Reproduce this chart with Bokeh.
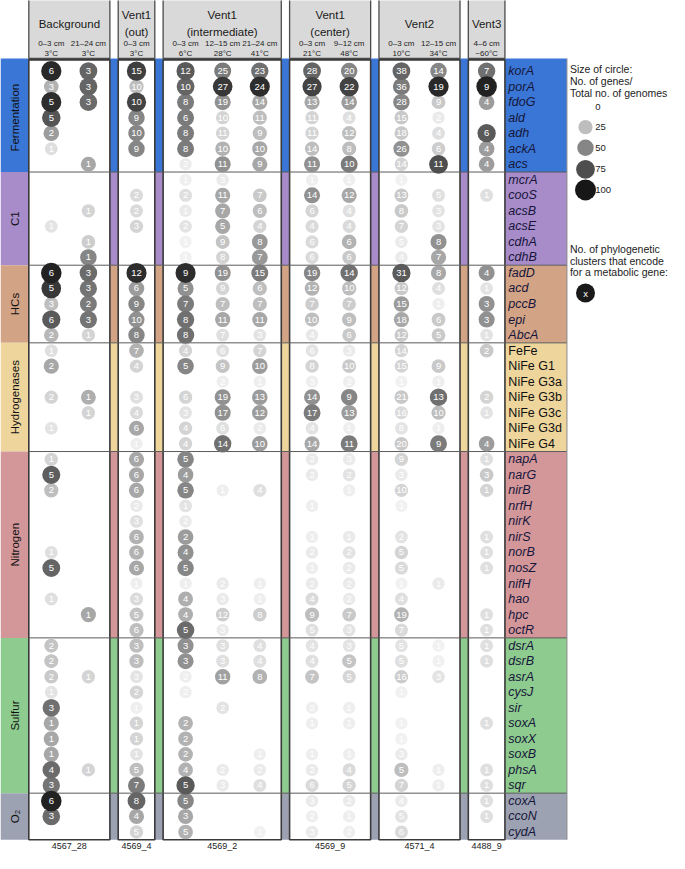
import math
from bokeh.plotting import figure
from bokeh.models import ColumnDataSource, Range1d
from bokeh.core.properties import value
from bokeh.embed import file_html
from bokeh.resources import INLINE

FONT = "Liberation Sans"

# ---------------- data ----------------
panel_titles = [["Background"], ["Vent1", "(out)"], ["Vent1", "(intermediate)"],
                ["Vent1", "(center)"], ["Vent2"], ["Vent3"]]
panel_samples = ["4567_28", "4569_4", "4569_2", "4569_9", "4571_4", "4488_9"]
panel_depths = [["0–3 cm", "21–24 cm"], ["0–3 cm"], ["0–3 cm", "12–15 cm", "21–24 cm"],
                ["0–3 cm", "9–12 cm"], ["0–3 cm", "12–15 cm"], ["4–6 cm"]]
panel_temps = [["3°C", "3°C"], ["3°C"], ["6°C", "28°C", "41°C"],
               ["21°C", "48°C"], ["10°C", "34°C"], ["~60°C"]]

categories = ["Fermentation", "C1", "HCs", "Hydrogenases", "Nitrogen", "Sulfur", "O₂"]
category_colors = ["#3a76d6", "#a88bc9", "#d3a386", "#edd59c", "#d3979a", "#8ecb8e", "#9da2b2"]
genes_fermentation = ["korA", "porA", "fdoG", "ald", "adh", "ackA", "acs"]
genes_c1 = ["mcrA", "cooS", "acsB", "acsE", "cdhA", "cdhB"]
genes_hcs = ["fadD", "acd", "pccB", "epi", "AbcA"]
genes_hydrogenases = ["FeFe", "NiFe G1", "NiFe G3a", "NiFe G3b", "NiFe G3c", "NiFe G3d", "NiFe G4"]
genes_nitrogen = ["napA", "narG", "nirB", "nrfH", "nirK", "nirS", "norB", "nosZ", "nifH", "hao", "hpc", "octR"]
genes_sulfur = ["dsrA", "dsrB", "asrA", "cysJ", "sir", "soxA", "soxX", "soxB", "phsA", "sqr"]
genes_o2 = ["coxA", "ccoN", "cydA"]
category_genes = [genes_fermentation, genes_c1, genes_hcs, genes_hydrogenases,
                  genes_nitrogen, genes_sulfur, genes_o2]
italic_categories = [True, True, True, False, True, True, True]

N = None
# counts (number of phylogenetic clusters) and percent (genes / genomes), 50 rows each
bg_0_3_n = [6, 3, 5, 5, 2, 1, N,  N, N, N, 1, N, N,  6, 5, 3, 6, 2,  1, 2, N, 2, N, 1, N,
            1, 5, 2, N, N, N, 1, 5, N, 1, N, N,  2, 2, 2, 1, 3, 1, 1, 1, 4, 3,  6, 3, N]
bg_0_3_p = [92, 30, 90, 72, 40, 10, N,  N, N, N, 8, N, N,  95, 85, 25, 70, 28,  10, 35, N, 15, N, 8, N,
            15, 68, 25, N, N, N, 10, 65, N, 10, N, N,  22, 22, 20, 8, 60, 35, 35, 35, 62, 58,  95, 62, N]

bg_21_24_n = [3, 3, 3, N, N, N, 1,  N, N, 1, N, 1, 1,  3, 3, 2, 3, 1,  N, N, N, 1, 1, N, N,
              N, N, N, N, N, N, N, N, N, N, 1, N,  N, N, 1, N, N, N, N, N, 1, N,  N, N, N]
bg_21_24_p = [65, 65, 62, N, N, N, 35,  N, N, 15, N, 18, 50,  62, 58, 55, 58, 15,  N, N, N, 32, 15, N, N,
              N, N, N, N, N, N, N, N, N, N, 35, N,  N, N, 15, N, N, N, N, N, 15, N,  N, N, N]

v1out_n = [15, 10, 10, 9, 10, 9, N,  N, 2, 2, 3, N, N,  12, 6, 9, 10, 8,  7, 4, N, 3, 4, 6, 1,
           6, 6, 6, 2, 3, 6, 6, 6, 1, 3, 5, 6,  3, 3, 3, 2, 1, 1, 1, 1, 5, 7,  8, 4, 5]
v1out_p = [82, 25, 80, 50, 50, 50, N,  N, 12, 12, 15, N, N,  90, 40, 50, 45, 50,  30, 15, N, 10, 12, 35, 3,
           35, 35, 35, 5, 10, 30, 30, 35, 3, 12, 22, 25,  25, 25, 8, 15, 3, 15, 15, 8, 25, 55,  65, 35, 15]

v1i_0_3_n = [12, 10, 8, 6, 8, 8, 2,  1, 2, 1, 2, 1, 1,  9, 5, 7, 8, 8,  4, 5, N, 6, 3, 4, 4,
             5, 4, 5, 1, 2, 2, 4, 5, 1, 4, 4, 5,  3, 3, 2, 2, N, 2, 2, 2, 4, 5,  5, 3, 5]
v1i_0_3_p = [70, 65, 55, 55, 55, 55, 4,  3, 10, 5, 8, 2, 2,  90, 45, 55, 60, 60,  15, 50, N, 15, 8, 15, 15,
             50, 40, 50, 8, 5, 40, 45, 50, 3, 32, 32, 62,  45, 45, 3, 3, N, 30, 30, 30, 30, 70,  50, 35, 30]

v1i_12_15_n = [25, 27, 19, 10, 11, 10, 11,  3, 11, 7, 5, 9, 8,  19, 9, 7, 11, 7,  6, 9, 2, 19, 17, 6, 14,
               N, N, 1, N, N, N, N, N, 2, 3, 12, 3,  3, 3, 11, N, 2, N, N, N, 2, 3,  N, N, N]
v1i_12_15_p = [55, 85, 45, 15, 15, 30, 45,  5, 35, 35, 35, 22, 15,  45, 15, 25, 35, 10,  10, 22, 3, 45, 45, 10, 60,
               N, N, 3, N, N, N, N, N, 5, 5, 18, 5,  10, 10, 38, N, 8, N, N, N, 5, 5,  N, N, N]

v1i_21_24_n = [23, 24, 14, 11, 9, 10, 9,  N, 7, 6, 4, 8, 7,  15, 6, 7, 11, 3,  7, 10, 1, 13, 12, 2, 10,
               N, N, 4, N, N, N, N, N, 1, 1, 8, N,  4, 4, 8, N, N, N, N, 1, 2, 4,  N, N, 1]
v1i_21_24_p = [60, 90, 35, 25, 25, 35, 35,  N, 20, 25, 15, 42, 42,  55, 25, 25, 35, 8,  15, 40, 3, 40, 40, 5, 40,
               N, N, 10, N, N, N, N, N, 3, 3, 18, N,  10, 10, 30, N, N, N, N, 3, 5, 10,  N, N, 2]

v1c_0_3_n = [28, 27, 13, 11, 11, 14, 11,  1, 14, 6, 4, 6, 6,  19, 12, 7, 10, 4,  6, 8, 3, 14, 17, 4, 14,
             2, 2, N, 1, N, 1, 2, 1, 2, 4, 9, 5,  4, 4, 7, N, 2, 1, N, 1, 2, 6,  3, 2, 3]
v1c_0_3_p = [65, 80, 35, 15, 15, 25, 45,  3, 45, 15, 12, 12, 12,  50, 30, 18, 25, 6,  8, 15, 3, 45, 55, 8, 35,
             5, 5, N, 3, N, 3, 5, 3, 5, 12, 25, 10,  8, 10, 22, N, 3, 3, N, 3, 5, 12,  5, 3, 5]

v1c_9_12_n = [20, 22, 14, 4, 12, 8, 10,  1, 12, 4, 4, 6, 6,  14, 10, 7, 9, 6,  3, 10, 2, 9, 13, 1, 11,
              3, 2, 1, N, N, 1, 2, 2, 2, 2, 7, 3,  3, 5, 5, N, 1, 1, N, 1, 4, 5,  2, 1, 2]
v1c_9_12_p = [50, 80, 40, 10, 25, 25, 55,  3, 35, 10, 12, 30, 20,  60, 25, 18, 25, 20,  5, 20, 3, 50, 40, 3, 55,
              5, 8, 3, N, N, 5, 8, 5, 5, 5, 20, 8,  8, 22, 14, N, 3, 3, N, 3, 12, 15,  5, 3, 3]

v2_0_3_n = [38, 36, 28, 15, 18, 26, 14,  1, 13, 8, 7, 5, 4,  31, 12, 15, 18, 12,  14, 15, 1, 21, 16, 8, 20,
            9, 3, 10, 1, N, 2, 5, 5, 1, 4, 19, 7,  5, 5, 16, 1, N, 1, 1, 3, 5, 7,  4, 5, 6]
v2_0_3_p = [65, 55, 50, 20, 20, 45, 15,  2, 20, 20, 15, 5, 5,  70, 20, 40, 35, 20,  15, 15, 2, 20, 12, 8, 20,
            15, 5, 15, 2, N, 8, 15, 12, 2, 10, 30, 12,  8, 10, 18, 2, N, 2, 2, 5, 25, 15,  5, 8, 12]

v2_12_15_n = [14, 19, 9, 2, 4, 6, 11,  N, 5, 3, 3, 8, 7,  8, 4, 1, 6, 5,  N, 9, 1, 13, 10, 1, 9,
              N, N, N, N, N, N, N, N, 1, N, N, N,  1, 1, 3, N, N, N, N, N, 1, 1,  N, N, N]
v2_12_15_p = [50, 92, 20, 5, 10, 18, 75,  N, 10, 8, 8, 45, 35,  35, 10, 3, 20, 20,  N, 20, 3, 60, 25, 3, 55,
              N, N, N, N, N, N, N, N, 5, N, N, N,  2, 2, 8, N, N, N, N, N, 3, 3,  N, N, N]

v3_n = [7, 9, 4, N, 6, 4, 4,  N, 1, N, N, N, N,  4, 1, 3, 3, 1,  2, N, N, 2, 1, N, 4,
        1, 3, 1, N, N, 1, 1, 1, N, N, 1, 1,  1, 1, N, N, N, 1, N, N, 1, 1,  1, 1, N]
v3_p = [60, 95, 40, N, 70, 40, 40,  N, 10, N, N, N, N,  45, 8, 45, 45, 8,  20, N, N, 15, 8, N, 40,
        10, 20, 15, N, N, 10, 10, 10, N, N, 10, 10,  10, 10, N, N, N, 10, N, N, 10, 10,  10, 10, N]

columns_n = [bg_0_3_n, bg_21_24_n, v1out_n, v1i_0_3_n, v1i_12_15_n, v1i_21_24_n,
             v1c_0_3_n, v1c_9_12_n, v2_0_3_n, v2_12_15_n, v3_n]
columns_p = [bg_0_3_p, bg_21_24_p, v1out_p, v1i_0_3_p, v1i_12_15_p, v1i_21_24_p,
             v1c_0_3_p, v1c_9_12_p, v2_0_3_p, v2_12_15_p, v3_p]

legend_values = [0, 25, 50, 75, 100]
legend_title = ["Size of circle:", "No. of genes/", "Total no. of genomes"]
cluster_title = ["No. of phylogenetic", "clusters that encode", "for a metabolic gene:"]

# ---------------- layout ----------------
X_MAX, Y_MAX = 685, 869
PANEL_TOP = 60.5
HEADER_BOT = 59.0
BODY_TOP = 64.0
BODY_BOT = 855.0
CAT_R = 29.0
BAND_R = 580.0
LABEL_X = 520.0
GAP = 8.5
n_rows = sum(len(g) for g in category_genes)
ROW_H = (BODY_BOT - BODY_TOP) / n_rows


def row_y(i):
    return BODY_TOP + (i + 0.5) * ROW_H


def gray(pct):
    g = int(round(245 - 222 * pct / 100.0))
    return "#%02x%02x%02x" % (g, g, g)


def diam(pct):
    return 12.0 + 0.09 * pct


# panels
panel_ncols = [len(d) for d in panel_depths]
panel_left, panel_right, col_x = [], [], []
x = CAT_R
for n in panel_ncols:
    w = 37.5 if n == 1 else 45 + 38 * (n - 1)
    panel_left.append(x)
    panel_right.append(x + w)
    if n == 1:
        col_x.append([x + w / 2])
    else:
        col_x.append([x + 23 + 38 * j for j in range(n)])
    x += w + GAP
flat_col_x = [cx for cols in col_x for cx in cols]

p = figure(width=669, height=853, x_range=Range1d(0, X_MAX), y_range=Range1d(Y_MAX, 0),
           output_backend="svg", toolbar_location=None, min_border=0,
           x_axis_type=None, y_axis_type=None)
p.grid.visible = False
p.outline_line_color = None
p.background_fill_color = "white"
p.border_fill_color = "white"

# category bands
sec_top, sec_bot, sec_mid = [], [], []
r = 0
for k, g in enumerate(category_genes):
    t = BODY_TOP + r * ROW_H
    b = BODY_TOP + (r + len(g)) * ROW_H
    sec_top.append(HEADER_BOT if k == 0 else t)
    sec_bot.append(b)
    sec_mid.append((t + b) / 2)
    r += len(g)
p.quad(left=0, right=BAND_R, top=sec_top, bottom=sec_bot, fill_color=category_colors, line_color=None)

# panel boxes
p.quad(left=panel_left, right=panel_right, top=PANEL_TOP, bottom=BODY_BOT,
       fill_color="white", line_color="#3a3a3a", line_width=1.6)

# section separator lines
p.segment(x0=CAT_R, x1=BAND_R, y0=sec_bot[:-1], y1=sec_bot[:-1], line_color="#5a5a5a", line_width=1)
p.segment(x0=[BAND_R], x1=[BAND_R], y0=[HEADER_BOT], y1=[BODY_BOT], line_color="#8a8a8a", line_width=1)

# category labels
p.text(x=[CAT_R / 2] * len(categories), y=sec_mid, text=categories, angle=math.pi / 2,
       text_align="center", text_baseline="middle", text_font=value(FONT),
       text_font_size="11.5px", text_color="#111111")

# header boxes
p.quad(left=panel_left, right=panel_right, top=-3, bottom=HEADER_BOT,
       fill_color="#d9d9d9", line_color="#4a4a4a", line_width=1.3)
tx, ty, tt = [], [], []
for k, lines in enumerate(panel_titles):
    cx = (panel_left[k] + panel_right[k]) / 2
    ys = [24] if len(lines) == 1 else [15, 32]
    for ln, yy in zip(lines, ys):
        tx.append(cx); ty.append(yy); tt.append(ln)
p.text(x=tx, y=ty, text=tt, text_align="center", text_baseline="middle",
       text_font=value(FONT), text_font_size="11.5px", text_color="#1a1a1a")
sx, sy, st = [], [], []
for k in range(len(panel_depths)):
    for j, cx in enumerate(col_x[k]):
        sx += [cx, cx]; sy += [44, 54.5]; st += [panel_depths[k][j], panel_temps[k][j]]
p.text(x=sx, y=sy, text=st, text_align="center", text_baseline="middle",
       text_font=value(FONT), text_font_size="8px", text_color="#222222")

# sample ids
p.text(x=[(l + rr) / 2 for l, rr in zip(panel_left, panel_right)], y=[861] * len(panel_samples),
       text=panel_samples, text_align="center", text_baseline="middle",
       text_font=value(FONT), text_font_size="9px", text_color="#222222")

# gene labels
gi_y, gi_t, gn_y, gn_t = [], [], [], []
r = 0
for k, g in enumerate(category_genes):
    for name in g:
        if italic_categories[k]:
            gi_y.append(row_y(r)); gi_t.append(name)
        else:
            gn_y.append(row_y(r)); gn_t.append(name)
        r += 1
p.text(x=[LABEL_X] * len(gi_t), y=gi_y, text=gi_t, text_align="left", text_baseline="middle",
       text_font=value(FONT), text_font_size="12.5px", text_font_style="italic", text_color="#16163a")
p.text(x=[LABEL_X] * len(gn_t), y=gn_y, text=gn_t, text_align="left", text_baseline="middle",
       text_font=value(FONT), text_font_size="12.5px", text_color="#111111")

# data circles
cells = []
for c, (ns, ps) in enumerate(zip(columns_n, columns_p)):
    for i, (nv, pv) in enumerate(zip(ns, ps)):
        if nv is None:
            continue
        cells.append((pv, flat_col_x[c], row_y(i), str(nv)))
cells.sort(key=lambda t: t[0])
src = ColumnDataSource(dict(
    x=[t[1] for t in cells], y=[t[2] for t in cells], label=[t[3] for t in cells],
    size=[diam(t[0]) for t in cells], color=[gray(t[0]) for t in cells]))
p.scatter(x="x", y="y", size="size", fill_color="color", line_color=None, source=src)
p.text(x="x", y="y", text="label", source=src, text_align="center", text_baseline="middle",
       text_font=value(FONT), text_font_size="9.5px", text_color="white")

# legend
LEG_X = 583
p.text(x=[LEG_X] * 3, y=[70, 82, 94], text=legend_title, text_align="left", text_baseline="middle",
       text_font=value(FONT), text_font_size="10.5px", text_color="#222222")
leg_y = [108, 129, 150, 172, 193]
p.scatter(x=[599] * len(legend_values), y=leg_y, size=[diam(v) if v > 0 else 0 for v in legend_values],
          fill_color=[gray(v) for v in legend_values], line_color=None)
p.text(x=[609] * len(legend_values), y=leg_y, text=[str(v) for v in legend_values], text_align="left",
       text_baseline="middle", text_font=value(FONT), text_font_size="9.5px", text_color="#222222")
p.text(x=[LEG_X] * 3, y=[253, 265, 277], text=cluster_title, text_align="left", text_baseline="middle",
       text_font=value(FONT), text_font_size="10.5px", text_color="#222222")
p.scatter(x=[599], y=[298], size=[19], fill_color="#1a1a1a", line_color=None)
p.text(x=[599], y=[298], text=["x"], text_align="center", text_baseline="middle",
       text_font=value(FONT), text_font_size="9.5px", text_color="white")

open("out.html", "w").write(file_html(p, INLINE))
